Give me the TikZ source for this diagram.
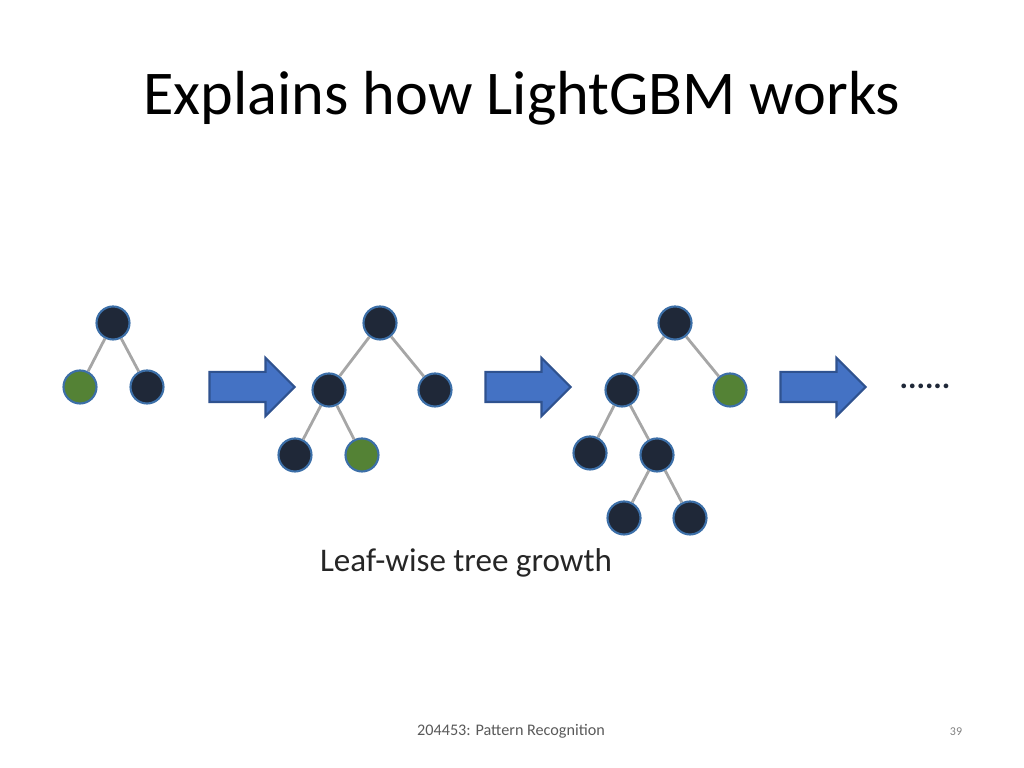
\documentclass[tikz,border=0pt]{standalone}
\usepackage{fontspec}
\setmainfont{Carlito}
\usetikzlibrary{shapes.arrows}
\definecolor{vnode}{HTML}{1f2838}
\definecolor{vleaf}{HTML}{548235}
\definecolor{vrim}{HTML}{3c6fa8}
\definecolor{vedge}{HTML}{a6a6a6}
\definecolor{varrow}{HTML}{4472c4}
\definecolor{varrowrim}{HTML}{2f528f}

\begin{document}
\begin{tikzpicture}[x=0.01cm, y=-0.01cm,
		dnode/.style={circle, fill=vnode, draw=vrim, line width=0.6pt, minimum size=0.33cm, inner sep=0},
		gnode/.style={dnode, fill=vleaf},
		edge/.style={color=vedge, line width=0.8pt},
		bigarrow/.style={single arrow, fill=varrow, draw=varrowrim, line width=0.6pt, minimum height=0.85cm, inner xsep=0, inner ysep=0.14cm, single arrow head extend=0.14cm}]
		\useasboundingbox (0,0) rectangle (1024,768);
		% title
		\node[anchor=base west, font=\fontsize{17.7}{21}\selectfont] (title) at (131,115) {Explains how LightGBM works};
		% first tree
		\node[dnode] (ar) at (113,323) {};
		\node[gnode] (al) at (80,387) {};
		\node[dnode] (ab) at (147,387) {};
		\draw[edge] (ar) -- (al);
		\draw[edge] (ar) -- (ab);
		\node[bigarrow] (arrA) at (244.5,387) {};
		% second tree
		\node[dnode] (br) at (380,323) {};
		\node[dnode] (bl) at (329,390) {};
		\node[dnode] (bb) at (435,390) {};
		\node[dnode] (bll) at (295,455) {};
		\node[gnode] (blr) at (362,455) {};
		\draw[edge] (br) -- (bl);
		\draw[edge] (br) -- (bb);
		\draw[edge] (bl) -- (bll);
		\draw[edge] (bl) -- (blr);
		\node[bigarrow] (arrB) at (520.5,387) {};
		% third tree
		\node[dnode] (cr) at (675,323) {};
		\node[dnode] (cl) at (622,390) {};
		\node[gnode] (cb) at (730,390) {};
		\node[dnode] (cll) at (590,453) {};
		\node[dnode] (clr) at (657,455) {};
		\node[dnode] (cxl) at (624,518) {};
		\node[dnode] (cxr) at (690,518) {};
		\draw[edge] (cr) -- (cl);
		\draw[edge] (cr) -- (cb);
		\draw[edge] (cl) -- (cll);
		\draw[edge] (cl) -- (clr);
		\draw[edge] (clr) -- (cxl);
		\draw[edge] (clr) -- (cxr);
		\node[bigarrow] (arrC) at (815.5,387) {};
		\node[font=\fontsize{9}{10}\selectfont\bfseries, text=vnode] (dots) at (925,386) {......};
		% caption and footer
		\node[font=\fontsize{9.4}{11}\selectfont, text=black!85] (caption) at (466,563) {Leaf-wise tree growth};
		\node[font=\fontsize{4.6}{6}\selectfont, text=black!65] (footer) at (511,731) {204453: Pattern Recognition};
		\node[font=\fontsize{3.4}{4}\selectfont, text=black!50] (page) at (956,732) {39};
	\end{tikzpicture}
\end{document}
